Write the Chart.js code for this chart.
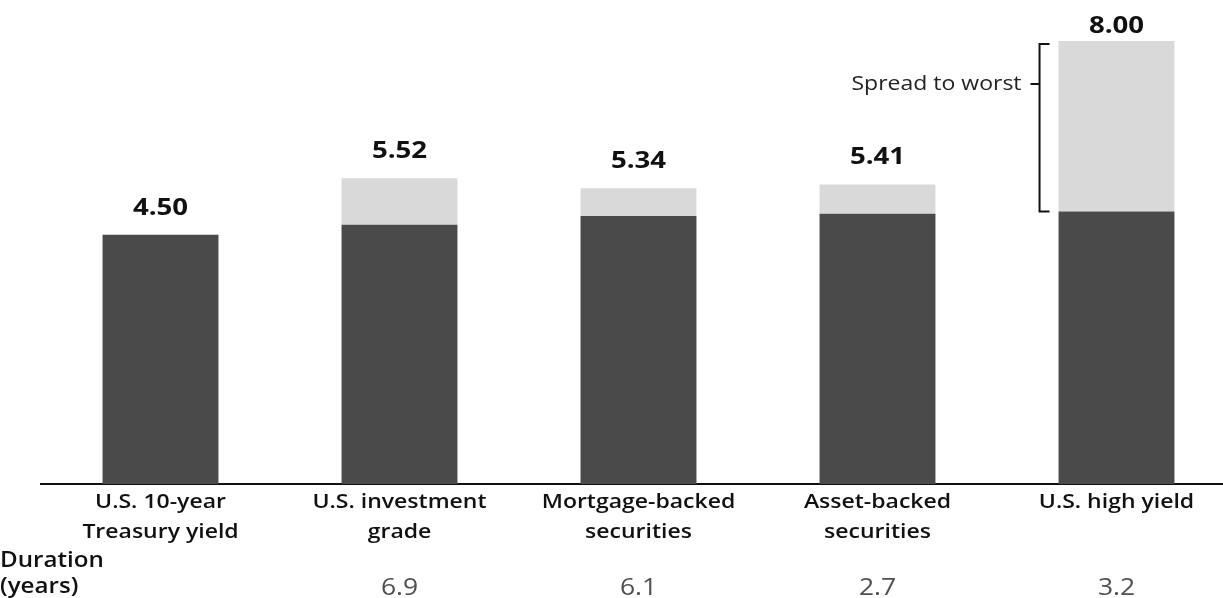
<!DOCTYPE html>
<html>
<head>
<meta charset="utf-8">
<script src="https://cdn.jsdelivr.net/npm/chart.js@4/dist/chart.umd.min.js"></script>
<style>
  html, body { margin: 0; padding: 0; background: #fff; overflow: hidden; }
  #wrap { width: 1240px; height: 598px; }
</style>
</head>
<body>
<div id="wrap"><canvas id="yieldChart" width="1240" height="598"></canvas></div>
<script>
// chart values
const categories = [
    ["U.S. 10-year", "Treasury yield"],
    ["U.S. investment", "grade"],
    ["Mortgage-backed", "securities"],
    ["Asset-backed", "securities"],
    ["U.S. high yield"]
];
const treasuryPart = [4.50, 4.68, 4.84, 4.88, 4.92];
const spreadToWorst = [0, 0.84, 0.50, 0.53, 3.08];
const durationYears = [null, 6.9, 6.1, 2.7, 3.2];
const spreadLabel = "Spread to worst";
const durationTitle = ["Duration", "(years)"];

const DARK = "#4a4a4a";
const LIGHT = "#d9d9d9";
const SX = 1.15; // the source type is set wide

function drawText(ctx, s, x, y, font, color, align) {
    ctx.save();
    ctx.font = font;
    ctx.fillStyle = color;
    ctx.textAlign = align;
    ctx.textBaseline = "alphabetic";
    ctx.translate(x, y);
    ctx.scale(SX, 1);
    ctx.fillText(s, 0, 0);
    ctx.restore();
}

// labels, durations, totals and the spread bracket
const annotations = {
    id: "annotations",
    afterDraw(chart) {
        const ctx = chart.ctx;
        const xs = chart.scales.x;
        const ys = chart.scales.y;

        categories.forEach((lines, i) => {
            const x = xs.getPixelForValue(i);
            lines.forEach((line, j) => {
                drawText(ctx, line, x, 508 + j * 30, '600 20px "Open Sans"', "#111", "center");
            });
            const total = treasuryPart[i] + spreadToWorst[i];
            const top = ys.getPixelForValue(total);
            drawText(ctx, total.toFixed(2), x, Math.max(top - 20, 33), 'bold 24px "Open Sans"', "#111", "center");
            if (durationYears[i] !== null) {
                drawText(ctx, durationYears[i].toFixed(1), x, 595, '500 23px "Open Sans"', "#505050", "center");
            }
        });

        drawText(ctx, durationTitle[0], 0, 567, '600 21px "Open Sans"', "#111", "left");
        drawText(ctx, durationTitle[1], 0, 593, '600 21px "Open Sans"', "#111", "left");

        // bracket beside the last bar
        const last = categories.length - 1;
        const bar = chart.getDatasetMeta(1).data[last];
        const left = bar.x - bar.width / 2;
        const bx = left - 19;
        const yTop = ys.getPixelForValue(treasuryPart[last] + spreadToWorst[last]) + 3;
        const yBot = ys.getPixelForValue(treasuryPart[last]);
        const yMid = yTop + 40;
        ctx.save();
        ctx.strokeStyle = "#111";
        ctx.lineWidth = 2;
        ctx.beginPath();
        ctx.moveTo(bx + 10, yTop);
        ctx.lineTo(bx, yTop);
        ctx.lineTo(bx, yBot);
        ctx.lineTo(bx + 10, yBot);
        ctx.moveTo(bx, yMid);
        ctx.lineTo(bx - 9, yMid);
        ctx.stroke();
        ctx.restore();
        drawText(ctx, spreadLabel, bx - 18, yMid + 6, '400 20px "Open Sans"', "#222", "right");
    }
};

new Chart(document.getElementById("yieldChart").getContext("2d"), {
    type: "bar",
    data: {
        labels: categories,
        datasets: [
            { label: "Treasury", data: treasuryPart, backgroundColor: DARK },
            { label: "Spread to worst", data: spreadToWorst, backgroundColor: LIGHT }
        ]
    },
    options: {
        responsive: false,
        animation: false,
        devicePixelRatio: 1,
        layout: { padding: { top: 41, left: 41, right: 4, bottom: 0 } },
        datasets: { bar: { categoryPercentage: 1, barPercentage: 0.485 } },
        plugins: { legend: { display: false }, tooltip: { enabled: false } },
        scales: {
            x: {
                stacked: true,
                z: 1,
                grid: { display: false, drawTicks: false },
                border: { display: true, color: "#111", width: 2 },
                ticks: { display: false },
                afterFit(scale) { scale.height = 114; }
            },
            y: {
                stacked: true,
                display: false,
                min: 0,
                max: 8
            }
        }
    },
    plugins: [annotations]
});
</script>
</body>
</html>
